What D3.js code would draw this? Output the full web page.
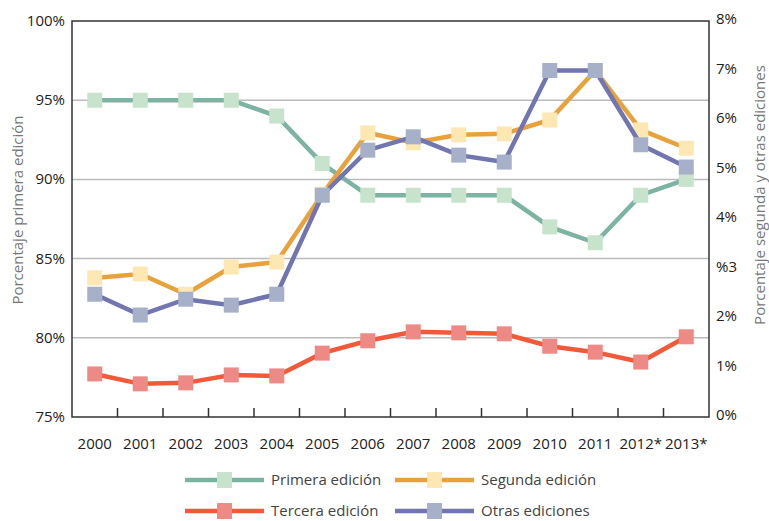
<!DOCTYPE html>
<html>
<head>
<meta charset="utf-8">
<script src="https://cdn.jsdelivr.net/npm/d3@7"></script>
<style>
body{margin:0;background:#fff;}
svg text{font-family:"Open Sans",sans-serif;}
</style>
</head>
<body>
<svg width="769" height="521"></svg>
<script>
// data
const years=["2000","2001","2002","2003","2004","2005","2006","2007","2008","2009","2010","2011","2012*","2013*"]
// left axis (%)
const primera=[95,95,95,95,94,91,89,89,89,89,87,86,89,90]
// right axis (%)
const segunda=[2.81,2.89,2.48,3.03,3.13,4.5,5.74,5.54,5.7,5.72,6.0,7.0,5.8,5.43]
const tercera=[0.87,0.67,0.69,0.85,0.83,1.29,1.54,1.72,1.70,1.68,1.43,1.31,1.11,1.62]
const otras=[2.48,2.06,2.38,2.26,2.48,4.48,5.39,5.66,5.29,5.15,7.0,7.0,5.5,5.05]

const leftTicks=[75,80,85,90,95,100]
const rightTicks=[0,1,2,3,4,5,6,7,8]
const rightLabels=["0%","1%","2%","%3","4%","5%","6%","7%","8%"]

const series=[
	{name:"Primera edición",values:primera,axis:"left",line:"#7cb3a2",mark:"#c8e3cc"},
	{name:"Segunda edición",values:segunda,axis:"right",line:"#e9a23b",mark:"#fde8b3"},
	{name:"Tercera edición",values:tercera,axis:"right",line:"#f05a3a",mark:"#ee8a85"},
	{name:"Otras ediciones",values:otras,axis:"right",line:"#7175b0",mark:"#a6b0c8"}
]

const svg=d3.select("svg")
const plotL=72, plotR=709, plotT=21, plotB=417

const x=d3.scaleBand().domain(years).range([plotL,plotR])
const yL=d3.scaleLinear().domain([75,100]).range([plotB,plotT])
const yR=d3.scaleLinear().domain([0,8]).range([plotB,plotT])

// grid lines
svg.append("g")
	.selectAll("line")
	.data([80,85,90,95])
	.enter()
	.append("line")
	.attr("x1",plotL).attr("x2",plotR)
	.attr("y1",d=>yL(d)).attr("y2",d=>yL(d))
	.attr("stroke","#bbbbbb").attr("stroke-width",1.5)

// frame
svg.append("rect")
	.attr("x",plotL).attr("y",plotT)
	.attr("width",plotR-plotL).attr("height",plotB-plotT)
	.attr("fill","none").attr("stroke","#333").attr("stroke-width",1.5)

// x ticks between categories, pointing up
svg.append("g")
	.selectAll("line")
	.data(years.slice(1))
	.enter()
	.append("line")
	.attr("x1",d=>x(d)).attr("x2",d=>x(d))
	.attr("y1",plotB).attr("y2",plotB-9)
	.attr("stroke","#333").attr("stroke-width",1.5)

// x labels
svg.append("g")
	.selectAll("text")
	.data(years)
	.enter()
	.append("text")
	.attr("x",d=>x(d)+x.bandwidth()/2)
	.attr("y",449)
	.attr("text-anchor","middle")
	.attr("font-size",15)
	.attr("fill","#222")
	.text(d=>d)

// left labels
svg.append("g")
	.selectAll("text")
	.data(leftTicks)
	.enter()
	.append("text")
	.attr("x",65)
	.attr("y",d=>yL(d)+5)
	.attr("text-anchor","end")
	.attr("font-size",15)
	.attr("fill","#222")
	.text(d=>d+"%")

// right labels
svg.append("g")
	.selectAll("text")
	.data(rightTicks)
	.enter()
	.append("text")
	.attr("x",716)
	.attr("y",d=>yR(d)+3)
	.attr("font-size",15)
	.attr("fill","#222")
	.text((d,i)=>rightLabels[i])

// axis titles
svg.append("text")
	.attr("transform","translate(23,210) rotate(-90)")
	.attr("text-anchor","middle")
	.attr("font-size",15)
	.attr("fill","#777")
	.text("Porcentaje primera edición")

svg.append("text")
	.attr("transform","translate(765,195) rotate(-90)")
	.attr("text-anchor","middle")
	.attr("font-size",15)
	.attr("fill","#777")
	.text("Porcentaje segunda y otras ediciones")

// lines and markers
const ms=15
series.forEach(s=>{
	const yS=s.axis=="left"?yL:yR
	const line=d3.line()
		.x((d,i)=>x(years[i])+x.bandwidth()/2)
		.y(d=>yS(d))
	const g=svg.append("g")
	g.append("path")
		.attr("d",line(s.values))
		.attr("fill","none")
		.attr("stroke",s.line)
		.attr("stroke-width",4.5)
	g.selectAll("rect")
		.data(s.values)
		.enter()
		.append("rect")
		.attr("x",(d,i)=>x(years[i])+x.bandwidth()/2-ms/2)
		.attr("y",d=>yS(d)-ms/2)
		.attr("width",ms).attr("height",ms)
		.attr("fill",s.mark)
})

// legend
const legPos=[[185,480],[395,480],[185,511],[395,511]]
const leg=svg.append("g")
	.selectAll("g")
	.data(series)
	.enter()
	.append("g")
	.attr("transform",(d,i)=>"translate("+legPos[i][0]+","+legPos[i][1]+")")
leg.append("line")
	.attr("x1",0).attr("x2",79)
	.attr("stroke",d=>d.line).attr("stroke-width",4.5)
leg.append("rect")
	.attr("x",32).attr("y",-8)
	.attr("width",15).attr("height",16)
	.attr("fill",d=>d.mark)
leg.append("text")
	.attr("x",86).attr("y",5)
	.attr("font-size",15)
	.attr("fill","#444")
	.text(d=>d.name)
</script>
</body>
</html>
